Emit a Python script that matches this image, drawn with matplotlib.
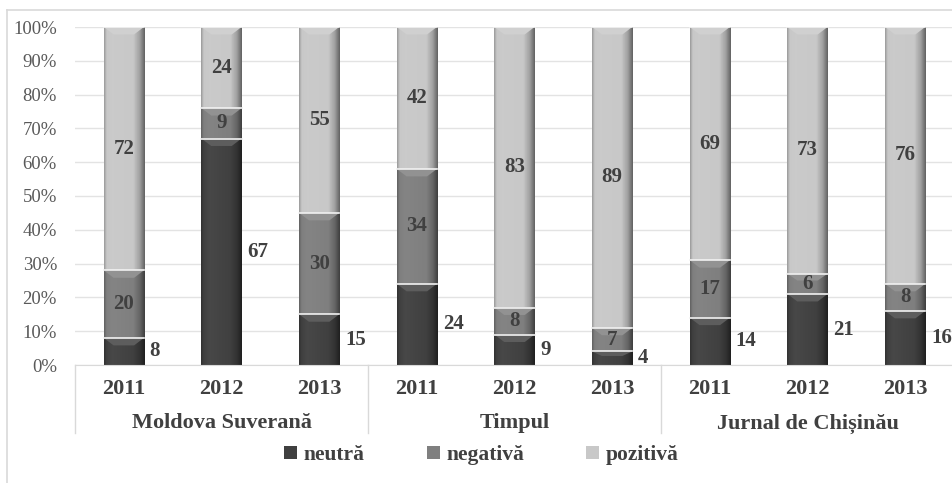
import matplotlib.pyplot as plt
import matplotlib.colors as mcolors
import numpy as np

# date
grupuri = ['Moldova Suverană', 'Timpul', 'Jurnal de Chișinău']
ani = ['2011', '2012', '2013']
neutra = [8, 67, 15, 24, 9, 4, 14, 21, 16]
negativa = [20, 9, 30, 34, 8, 7, 17, 6, 8]
pozitiva = [72, 24, 55, 42, 83, 89, 69, 73, 76]

serii = [('neutră', neutra, '#404040'),
         ('negativă', negativa, '#7f7f7f'),
         ('pozitivă', pozitiva, '#c8c8c8')]

plt.rcParams['font.family'] = ['Liberation Serif', 'DejaVu Serif']

fig = plt.figure(figsize=(9.53, 4.83), dpi=100)
ax = fig.add_axes([75 / 953, 118 / 483, 879 / 953, 338 / 483])

n = len(neutra)
x = np.arange(n)
w = 0.41
totals = np.array(neutra) + np.array(negativa) + np.array(pozitiva)


def shade(col, f):
    r, g, b = mcolors.to_rgb(col)
    if f >= 1:
        return (r + (1 - r) * (f - 1), g + (1 - g) * (f - 1), b + (1 - b) * (f - 1))
    return (r * f, g * f, b * f)


def draw_segment(xc, y0, h, col):
    # bara cu efect de relief (gradient orizontal + tesitura sus)
    stops = [0, 0.06, 0.2, 0.72, 0.88, 1.0]
    facts = [0.78, 1.0, 1.04, 1.0, 0.8, 0.5]
    cmap = mcolors.LinearSegmentedColormap.from_list(
        'g', [(s, shade(col, f)) for s, f in zip(stops, facts)])
    grad = np.linspace(0, 1, 64).reshape(1, -1)
    ax.imshow(grad, extent=(xc - w / 2, xc + w / 2, y0, y0 + h), aspect='auto',
              cmap=cmap, zorder=2, interpolation='bilinear')
    d = min(2.2, h / 3)
    top = y0 + h
    ax.fill([xc - w / 2, xc + w / 2, xc + w / 2 - 0.1, xc - w / 2 + 0.1],
            [top, top, top - d, top - d], color=shade(col, 1.15), zorder=3, lw=0)
    ax.plot([xc - w / 2, xc + w / 2], [top, top], color='#f2f2f2', lw=1.2, zorder=4)


bottom = np.zeros(n)
for name, vals, col in serii:
    pct = np.array(vals) / totals * 100
    for i in range(n):
        draw_segment(x[i], bottom[i], pct[i], col)
        cy = bottom[i] + pct[i] / 2
        if name == 'neutră':
            ax.text(x[i] + w / 2 + 0.06, cy, str(vals[i]), ha='left', va='center',
                    fontsize=15, fontweight='bold', color='#404040', zorder=5)
        else:
            ax.text(x[i], cy, str(vals[i]), ha='center', va='center',
                    fontsize=15, fontweight='bold', color='#404040', zorder=5)
    bottom += pct

ax.set_xlim(-0.5, n - 0.5)
ax.set_ylim(0, 100)
ax.set_yticks(np.arange(0, 101, 10))
ax.set_yticklabels([f'{t}%' for t in range(0, 101, 10)], fontsize=13.5, color='#595959')
ax.yaxis.grid(True, color='#e3e3e3', lw=1)
ax.set_axisbelow(True)
ax.tick_params(axis='y', length=0, pad=13)
ax.tick_params(axis='x', length=0, labelbottom=False)
for s in ['top', 'right', 'left']:
    ax.spines[s].set_visible(False)
ax.spines['bottom'].set_color('#d9d9d9')

# etichete categorii pe doua niveluri
for i in range(n):
    ax.text(x[i], -7.2, ani[i % 3], ha='center', va='center', fontsize=16,
            fontweight='bold', color='#404040', clip_on=False)
for g, name in enumerate(grupuri):
    ax.text(3 * g + 1, -17.3, name, ha='center', va='center', fontsize=16,
            fontweight='bold', color='#404040', clip_on=False)
for sx in [-0.5, 2.5, 5.5, n - 0.505]:
    ax.plot([sx, sx], [0, -20], color='#d9d9d9', lw=1, clip_on=False)

# legenda
handles = [plt.Rectangle((0, 0), 1, 1, facecolor=c, edgecolor='none') for _, _, c in serii]
fig.legend(handles, [s[0] for s in serii], loc='center', bbox_to_anchor=(0.505, 1 - 455 / 483),
           ncol=3, frameon=False, handlelength=0.6, handleheight=0.6, handletextpad=0.3,
           columnspacing=2.9, prop={'family': 'Liberation Serif', 'weight': 'bold', 'size': 15.5},
           labelcolor='#404040')

# chenar
fig.add_artist(plt.Line2D([7 / 953, 7 / 953], [0, 1 - 10 / 483], color='#d9d9d9', lw=1.2))
fig.add_artist(plt.Line2D([7 / 953, 1], [1 - 10 / 483, 1 - 10 / 483], color='#d9d9d9', lw=1.2))

fig.savefig('out.png', dpi=100)
